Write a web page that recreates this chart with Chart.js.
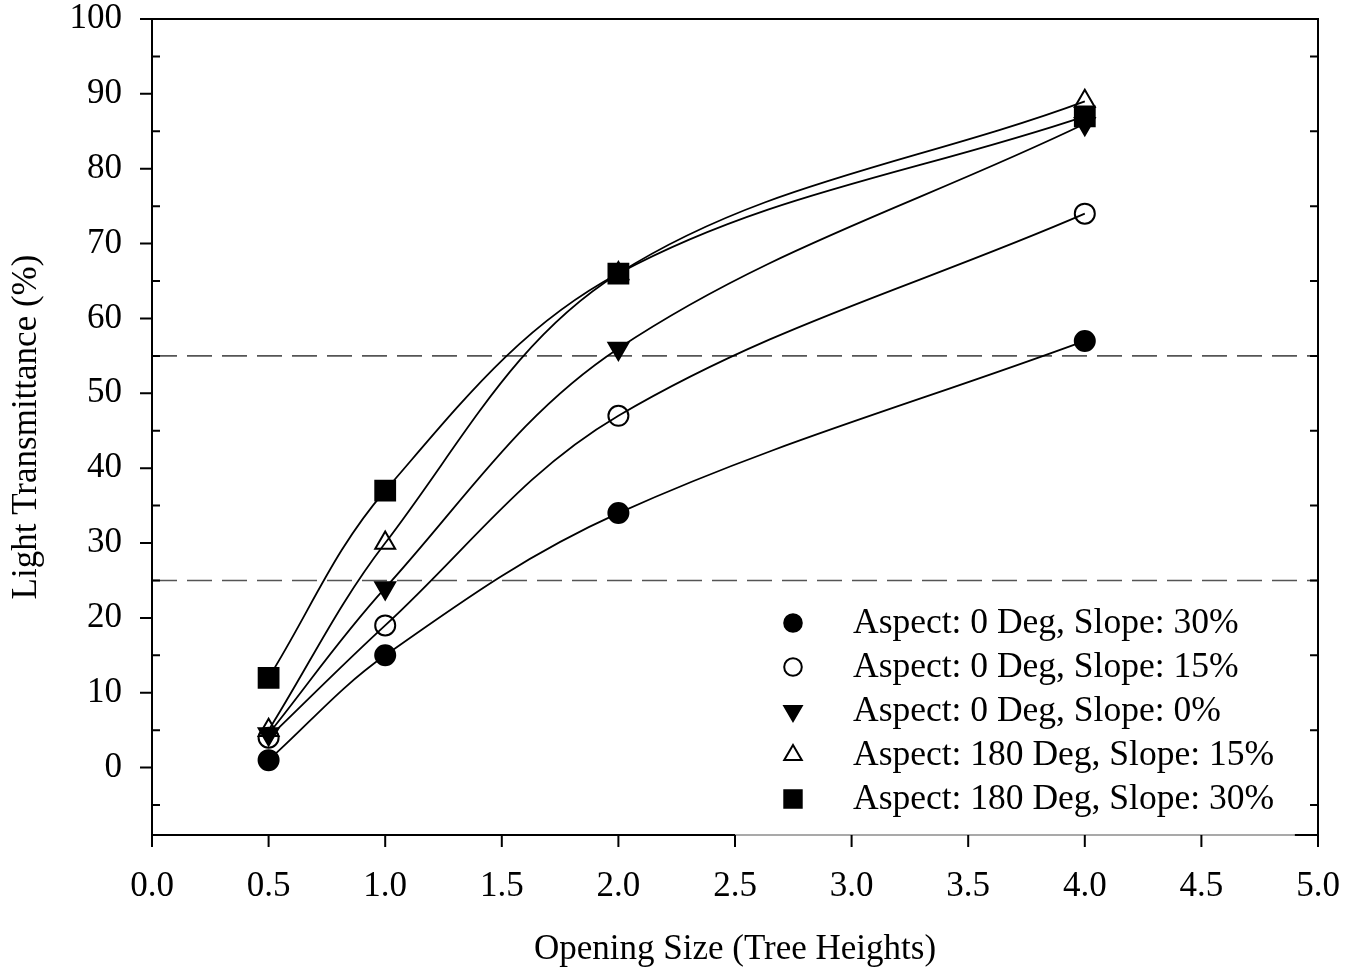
<!DOCTYPE html>
<html>
<head>
<meta charset="utf-8">
<script src="https://cdn.jsdelivr.net/npm/chart.js@4/dist/chart.umd.min.js"></script>
<style>
  body { margin: 0; background: #fff; }
  #wrap { width: 1345px; height: 969px; }
</style>
</head>
<body>
<div id="wrap"><canvas id="lightChart"></canvas></div>
<script>
// opening size in tree heights
const openingSizes = [0.5, 1.0, 2.0, 4.0];

// light transmittance (%) per aspect / slope
const aspect0Slope30 = [1, 15, 34, 57];
const aspect0Slope15 = [4, 19, 47, 74];
const aspect0Slope0 = [4.5, 24, 56, 86];
const aspect180Slope15 = [5, 30, 66, 89];
const aspect180Slope30 = [12, 37, 66, 87];

const xTicks = [0, 0.5, 1.0, 1.5, 2.0, 2.5, 3.0, 3.5, 4.0, 4.5, 5.0];
const yTicks = [0, 10, 20, 30, 40, 50, 60, 70, 80, 90, 100];
const yMinorTicks = [-5, 5, 15, 25, 35, 45, 55, 65, 75, 85, 95];
const thresholds = [25, 55];

const serif = 'Liberation Serif, Times New Roman, serif';

const series = [
  { label: 'Aspect: 0 Deg, Slope: 30%', values: aspect0Slope30, style: 'circle', filled: true, radius: 10, rotation: 0 },
  { label: 'Aspect: 0 Deg, Slope: 15%', values: aspect0Slope15, style: 'circle', filled: false, radius: 10, rotation: 0 },
  { label: 'Aspect: 0 Deg, Slope: 0%', values: aspect0Slope0, style: 'triangle', filled: true, radius: 11.5, rotation: 180 },
  { label: 'Aspect: 180 Deg, Slope: 15%', values: aspect180Slope15, style: 'triangle', filled: false, radius: 11.5, rotation: 0 },
  { label: 'Aspect: 180 Deg, Slope: 30%', values: aspect180Slope30, style: 'rect', filled: true, radius: 14, rotation: 0 }
];

const datasets = series.map(s => ({
  label: s.label,
  data: openingSizes.map((x, i) => ({ x: x, y: s.values[i] })),
  showLine: true,
  borderColor: '#000',
  borderWidth: 1.8,
  tension: 0.36,
  pointStyle: s.style,
  pointRotation: s.rotation,
  pointRadius: s.radius,
  pointHoverRadius: s.radius,
  pointBorderColor: '#000',
  pointBorderWidth: 2,
  pointBackgroundColor: s.filled ? '#000' : 'rgba(0,0,0,0)'
}));

// dashed reference lines at 25% and 55%
const thresholdLines = {
  id: 'thresholdLines',
  beforeDatasetsDraw(chart) {
    const { ctx, chartArea, scales } = chart;
    ctx.save();
    ctx.strokeStyle = '#555';
    ctx.lineWidth = 1.6;
    ctx.setLineDash([25, 10]);
    thresholds.forEach(t => {
      const y = scales.y.getPixelForValue(t);
      ctx.beginPath();
      ctx.moveTo(chartArea.left, y);
      ctx.lineTo(chartArea.right, y);
      ctx.stroke();
    });
    ctx.restore();
  }
};

// box frame plus tick marks (major outward, minor inward)
const frameTicks = {
  id: 'frameTicks',
  afterDatasetsDraw(chart) {
    const { ctx, chartArea: a, scales } = chart;
    ctx.save();
    ctx.strokeStyle = '#000';
    ctx.lineWidth = 2;
    ctx.beginPath();
    ctx.moveTo(a.left, a.bottom);
    ctx.lineTo(a.left, a.top);
    ctx.lineTo(a.right, a.top);
    ctx.lineTo(a.right, a.bottom);
    ctx.stroke();

    // bottom edge, thinner where the legend sits
    const xMid = scales.x.getPixelForValue(2.5);
    const xEnd = scales.x.getPixelForValue(4.9);
    ctx.beginPath();
    ctx.moveTo(a.left - 1, a.bottom);
    ctx.lineTo(xMid, a.bottom);
    ctx.moveTo(xEnd, a.bottom);
    ctx.lineTo(a.right + 1, a.bottom);
    ctx.stroke();
    ctx.strokeStyle = '#555';
    ctx.lineWidth = 1.2;
    ctx.beginPath();
    ctx.moveTo(xMid, a.bottom);
    ctx.lineTo(xEnd, a.bottom);
    ctx.stroke();

    ctx.strokeStyle = '#000';
    ctx.lineWidth = 2;
    ctx.beginPath();
    yTicks.forEach(v => {
      const y = scales.y.getPixelForValue(v);
      ctx.moveTo(a.left - 12, y);
      ctx.lineTo(a.left, y);
    });
    yMinorTicks.forEach(v => {
      const y = scales.y.getPixelForValue(v);
      ctx.moveTo(a.left, y);
      ctx.lineTo(a.left + 8, y);
      ctx.moveTo(a.right, y);
      ctx.lineTo(a.right - 8, y);
    });
    xTicks.forEach(v => {
      const x = scales.x.getPixelForValue(v);
      ctx.moveTo(x, a.bottom);
      ctx.lineTo(x, a.bottom + 12);
    });
    ctx.stroke();
    ctx.restore();
  }
};

// legend in the lower right of the plot
const markerLegend = {
  id: 'markerLegend',
  afterDraw(chart) {
    const { ctx, chartArea: a } = chart;
    const mx = a.right - 525;
    const tx = a.right - 465;
    const top = a.bottom - 212;
    ctx.save();
    ctx.font = '35.5px ' + serif;
    ctx.textBaseline = 'middle';
    series.forEach((s, i) => {
      const y = top + i * 44;
      ctx.strokeStyle = '#000';
      ctx.fillStyle = s.filled ? '#000' : '#fff';
      ctx.lineWidth = 2;
      Chart.helpers.drawPoint(ctx, {
        pointStyle: s.style,
        radius: s.radius * 0.88,
        rotation: s.rotation,
        borderWidth: 2
      }, mx, y);
      ctx.fillStyle = '#000';
      ctx.fillText(s.label, tx, y + 1);
    });
    ctx.restore();
  }
};

new Chart(document.getElementById('lightChart').getContext('2d'), {
  type: 'scatter',
  data: { datasets: datasets },
  options: {
    responsive: true,
    maintainAspectRatio: false,
    animation: false,
    layout: { padding: { top: 19, right: 27, left: 0, bottom: 0 } },
    plugins: {
      legend: { display: false },
      tooltip: { enabled: false }
    },
    scales: {
      x: {
        type: 'linear',
        min: 0,
        max: 5,
        grid: { display: false, drawTicks: false },
        border: { display: false },
        afterBuildTicks: s => { s.ticks = xTicks.map(v => ({ value: v })); },
        afterFit: s => {
          s.height = 134;
          s.paddingLeft = 0;
          s.paddingRight = 0;
        },
        ticks: {
          color: '#000',
          font: { family: serif, size: 35 },
          padding: 31,
          maxRotation: 0,
          callback: v => v.toFixed(1)
        },
        title: {
          display: true,
          text: 'Opening Size (Tree Heights)',
          color: '#000',
          font: { family: serif, size: 35, lineHeight: 1.0 },
          padding: { top: 0, bottom: 2 }
        }
      },
      y: {
        type: 'linear',
        min: -9,
        max: 100,
        grid: { display: false, drawTicks: false },
        border: { display: false },
        afterBuildTicks: s => { s.ticks = yTicks.map(v => ({ value: v })); },
        afterFit: s => {
          s.width = 152;
          s.paddingTop = 0;
          s.paddingBottom = 0;
        },
        ticks: {
          color: '#000',
          font: { family: serif, size: 35 },
          padding: 30,
          callback: v => String(v)
        },
        title: {
          display: true,
          text: 'Light Transmittance (%)',
          color: '#000',
          font: { family: serif, size: 35 },
          padding: { top: 6, bottom: 0 }
        }
      }
    }
  },
  plugins: [thresholdLines, frameTicks, markerLegend]
});
</script>
</body>
</html>
